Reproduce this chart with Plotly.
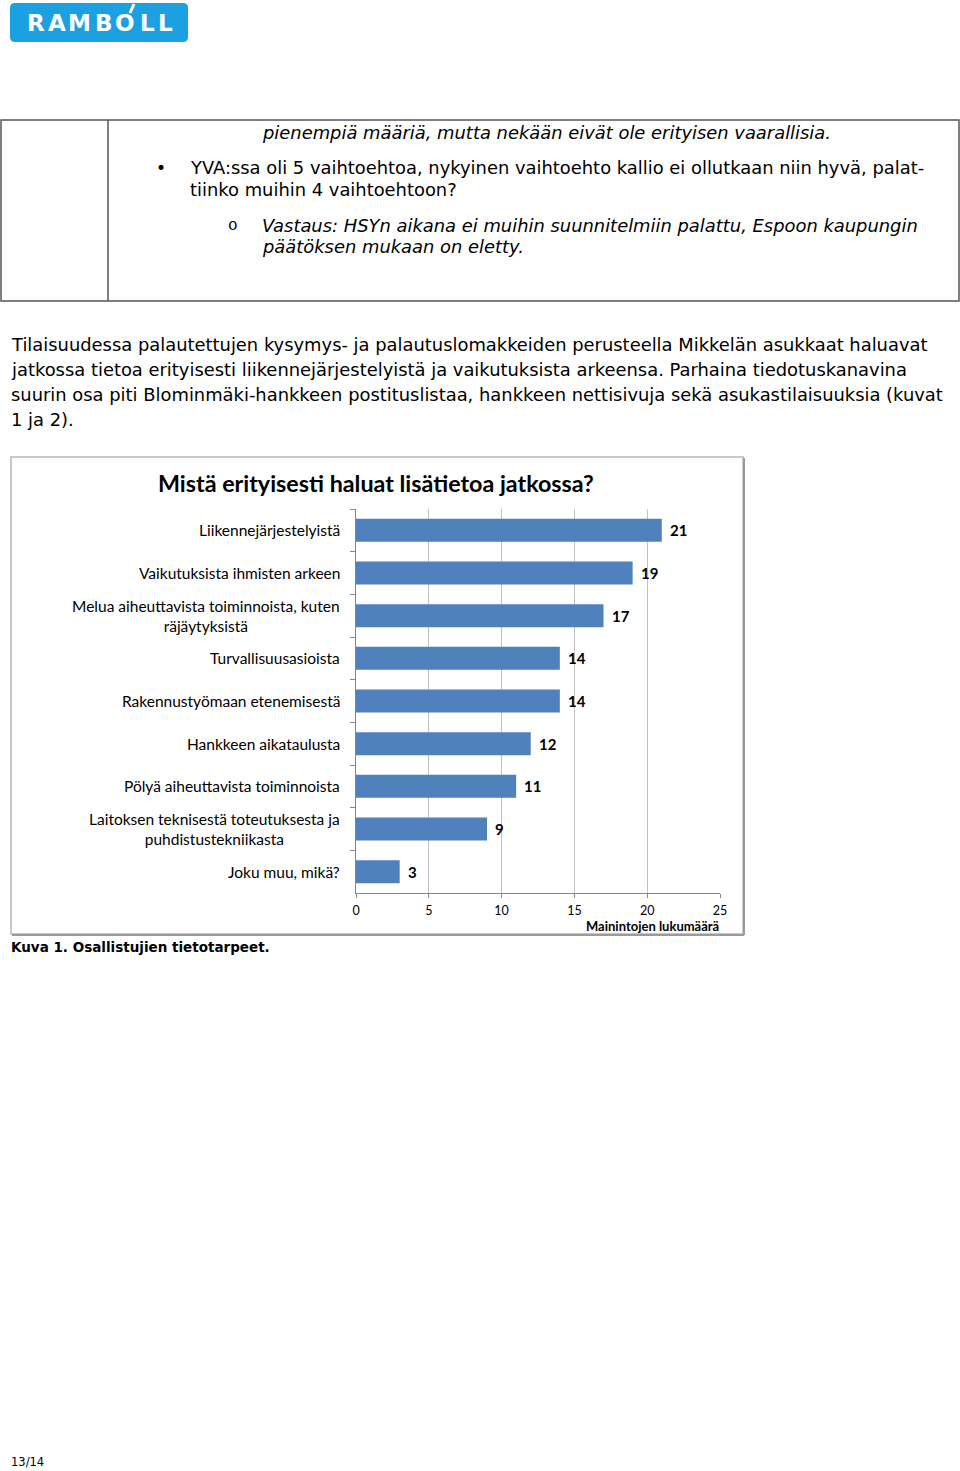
import plotly.graph_objects as go

W, H = 960, 1471

# ---------------- data ----------------
categories = [
    "Liikennejärjestelyistä",
    "Vaikutuksista ihmisten arkeen",
    "Melua aiheuttavista toiminnoista, kuten<br>räjäytyksistä",
    "Turvallisuusasioista",
    "Rakennustyömaan etenemisestä",
    "Hankkeen aikataulusta",
    "Pölyä aiheuttavista toiminnoista",
    "Laitoksen teknisestä toteutuksesta ja<br>puhdistustekniikasta",
    "Joku muu, mikä?",
]
values = [21, 19, 17, 14, 14, 12, 11, 9, 3]
x_ticks = [0, 5, 10, 15, 20, 25]
chart_title = "Mistä erityisesti haluat lisätietoa jatkossa?"
x_title = "Mainintojen lukumäärä"

table_lines = [
    ("pienempiä määriä, mutta nekään eivät ole erityisen vaarallisia.", True),
    ("YVA:ssa oli 5 vaihtoehtoa, nykyinen vaihtoehto kallio ei ollutkaan niin hyvä, palat-", False),
    ("tiinko muihin 4 vaihtoehtoon?", False),
    ("Vastaus: HSYn aikana ei muihin suunnitelmiin palattu, Espoon kaupungin", True),
    ("päätöksen mukaan on eletty.", True),
]
paragraph_lines = [
    "Tilaisuudessa palautettujen kysymys- ja palautuslomakkeiden perusteella Mikkelän asukkaat haluavat",
    "jatkossa tietoa erityisesti liikennejärjestelyistä ja vaikutuksista arkeensa. Parhaina tiedotuskanavina",
    "suurin osa piti Blominmäki-hankkeen postituslistaa, hankkeen nettisivuja sekä asukastilaisuuksia (kuvat",
    "1 ja 2).",
]
caption = "Kuva 1. Osallistujien tietotarpeet."
page_no = "13/14"
logo_letters = list("RAMBOLL")

# ---------------- helpers (pixel -> paper) ----------------
def px(x):
    return x / W

def py(y):
    return 1 - y / H

annotations = []
shapes = []

def text(x, y, s, size, family="DejaVu Sans", color="#000", weight="normal",
         style="normal", xanchor="left", yanchor="middle", align="left"):
    annotations.append(dict(
        x=px(x), y=py(y), xref="paper", yref="paper", text=s, showarrow=False,
        xanchor=xanchor, yanchor=yanchor, align=align, borderpad=0,
        font=dict(size=size, family=family, color=color, weight=weight, style=style)))

def rect(x0, y0, x1, y1, color, width, fill=None):
    shapes.append(dict(type="rect", xref="paper", yref="paper",
                       x0=px(x0), y0=py(y0), x1=px(x1), y1=py(y1),
                       line=dict(color=color, width=width),
                       fillcolor=fill if fill else "rgba(0,0,0,0)"))

def line(x0, y0, x1, y1, color, width):
    shapes.append(dict(type="line", xref="paper", yref="paper",
                       x0=px(x0), y0=py(y0), x1=px(x1), y1=py(y1),
                       line=dict(color=color, width=width)))

# ---------------- logo ----------------
lx0, ly0, lx1, ly1, r = 10, 3, 188, 42, 5
path = (f"M {px(lx0+r)} {py(ly0)} L {px(lx1-r)} {py(ly0)} "
        f"Q {px(lx1)} {py(ly0)} {px(lx1)} {py(ly0+r)} L {px(lx1)} {py(ly1-r)} "
        f"Q {px(lx1)} {py(ly1)} {px(lx1-r)} {py(ly1)} L {px(lx0+r)} {py(ly1)} "
        f"Q {px(lx0)} {py(ly1)} {px(lx0)} {py(ly1-r)} L {px(lx0)} {py(ly0+r)} "
        f"Q {px(lx0)} {py(ly0)} {px(lx0+r)} {py(ly0)} Z")
shapes.append(dict(type="path", xref="paper", yref="paper", path=path,
                   fillcolor="#1BA1E2", line=dict(width=0)))
logo_x = [36, 56.5, 79.5, 103.5, 124.5, 147, 165]
for ch, cx in zip(logo_letters, logo_x):
    text(cx, 23, ch, 23, family="DejaVu Sans", color="#FFFFFF", weight="bold",
         xanchor="center")
line(130, 13, 134, 4, "#FFFFFF", 3)

# ---------------- table box ----------------
rect(1, 120, 959, 301, "#555555", 1.5)
line(108, 120, 108, 301, "#555555", 1.5)
tbl_y = [132, 168, 189, 225, 247]
tbl_x = [261, 189, 189, 261, 261]
for (s, it), x, y in zip(table_lines, tbl_x, tbl_y):
    text(x, y, s, 17.9, style="italic" if it else "normal")
text(155, 168, "•", 17)
text(227, 226, "o", 16, family="Liberation Mono")

# ---------------- paragraph ----------------
for s, y in zip(paragraph_lines, [344, 369, 395, 420]):
    text(10, y, s, 17.9)

# ---------------- chart frame ----------------
rect(11, 457, 743, 934, "#C8C8C8", 2)
line(744, 458, 744, 935, "#9A9A9A", 2)
line(12, 935, 744, 935, "#9A9A9A", 2)

text(376, 483, chart_title, 23.3, family="Lato", color="#000", weight="bold",
     xanchor="center")
text(720, 926, x_title, 13, family="Lato", weight="bold", xanchor="right")

# caption and page number
text(10, 947, caption, 13.5, weight="bold")
text(10, 1462, page_no, 11.5)

# ---------------- bars ----------------
fig = go.Figure()
fig.add_trace(go.Bar(
    x=values, y=categories, orientation="h", width=0.54,
    marker=dict(color="#4F81BD", line=dict(width=0)),
    hoverinfo="x+y",
))

for c, v in zip(categories, values):
    annotations.append(dict(
        x=v, y=c, xref="x", yref="y", text=f"<b>{v}</b>", showarrow=False,
        xanchor="left", yanchor="middle", xshift=7, borderpad=0,
        font=dict(size=15, family="Lato", color="#000")))
    annotations.append(dict(
        x=px(341), y=c, xref="paper", yref="y", text=c, showarrow=False,
        xanchor="right", yanchor="middle", align="center", borderpad=0,
        font=dict(size=15.5, family="Lato", color="#000")))

fig.update_layout(
    width=W, height=H, autosize=False,
    margin=dict(l=0, r=0, t=0, b=0, pad=0, autoexpand=False),
    paper_bgcolor="#FFFFFF", plot_bgcolor="rgba(0,0,0,0)",
    showlegend=False,
    bargap=0.46,
    xaxis=dict(
        domain=[px(356), px(720)], range=[0, 25], tickvals=x_ticks,
        showgrid=True, gridcolor="#C0C0C0", gridwidth=1,
        showline=True, linecolor="#868686", linewidth=1,
        ticks="outside", ticklen=4, tickcolor="#868686",
        zeroline=False, ticklabelstandoff=2, automargin=False,
        tickfont=dict(size=12.5, family="Lato", color="#000"),
        fixedrange=True,
    ),
    yaxis=dict(
        domain=[py(893), py(509)], type="category",
        categoryorder="array", categoryarray=categories,
        range=[8.5, -0.5], showticklabels=False, automargin=False,
        showline=True, linecolor="#868686", linewidth=1,
        ticks="outside", ticklen=5, tickcolor="#868686", tickson="boundaries",
        showgrid=False, zeroline=False, fixedrange=True,
    ),
    annotations=annotations,
    shapes=shapes,
)

fig.write_html(
    "out.html",
    config={"displayModeBar": False, "responsive": False},
    post_script="document.body.style.margin='0';document.body.style.overflow='hidden';",
)
